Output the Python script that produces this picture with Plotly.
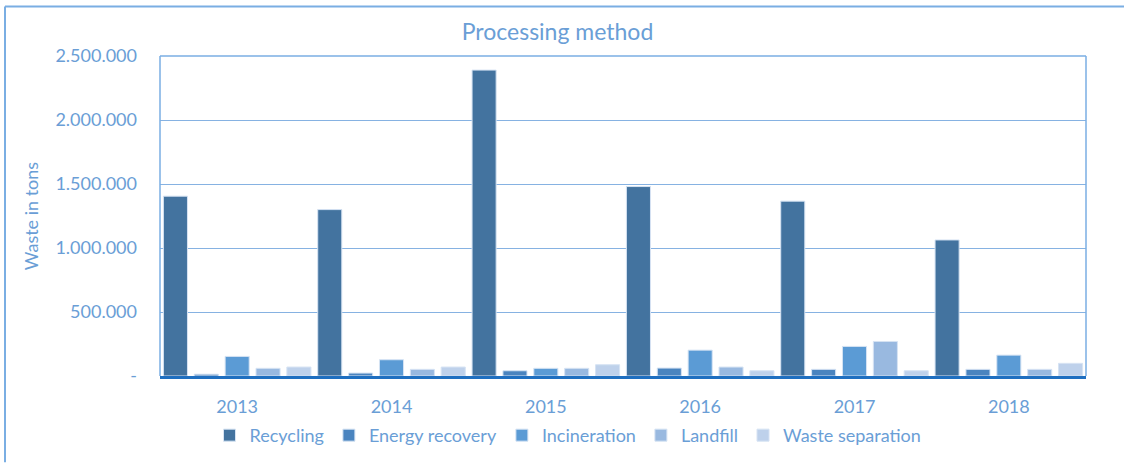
import plotly.graph_objects as go

# Waste processed per method, in tons
years = ["2013", "2014", "2015", "2016", "2017", "2018"]
recycling = [1405000, 1300000, 2390000, 1480000, 1366000, 1063000]
energy_recovery = [14000, 23000, 41000, 62000, 52000, 52000]
incineration = [153000, 127000, 60000, 202000, 231000, 163000]
landfill = [60000, 52000, 60000, 70000, 270000, 52000]
waste_separation = [70000, 70000, 88000, 41000, 41000, 99000]

series_names = ["Recycling", "Energy recovery", "Incineration", "Landfill", "Waste separation"]
series_values = [recycling, energy_recovery, incineration, landfill, waste_separation]
series_colors = ["#43739F", "#4A84BF", "#5B9BD5", "#99B9E0", "#BED1EB"]

y_tickvals = [0, 500000, 1000000, 1500000, 2000000, 2500000]
y_ticktext = ["-", "500.000", "1.000.000", "1.500.000", "2.000.000", "2.500.000"]

FONT = "Lato"
TEXT_COLOR = "#6A9ED6"
FRAME_COLOR = "#7AAEE3"
W, H = 1124, 466
ML, MR, MT, MB = 160, 38, 56, 87

fig = go.Figure()
for name, vals, col in zip(series_names, series_values, series_colors):
    fig.add_trace(go.Bar(
        name=name, x=years, y=vals,
        marker=dict(color=col, line=dict(color="#D6E3F3", width=1)),
    ))

pw, ph = W - ML - MR, H - MT - MB
def px_x(p):
    return (p - ML) / pw
def px_y(p):
    return (H - MB - p) / ph

# outer chart frame: only the top and left edges fall inside the page
fig.add_shape(type="line", xref="paper", yref="paper",
              x0=px_x(5), x1=px_x(W), y0=px_y(6), y1=px_y(6),
              line=dict(color=FRAME_COLOR, width=2))
fig.add_shape(type="line", xref="paper", yref="paper",
              x0=px_x(5), x1=px_x(5), y0=px_y(6), y1=px_y(H),
              line=dict(color=FRAME_COLOR, width=2))

fig.update_layout(
    width=W, height=H,
    margin=dict(l=ML, r=MR, t=MT, b=MB, pad=0),
    paper_bgcolor="white", plot_bgcolor="white",
    barmode="group", bargap=0.0, bargroupgap=0.22,
    font=dict(family=FONT, color=TEXT_COLOR, size=18),
    title=dict(text="Processing method", x=0.496, xanchor="center", y=1 - 32 / H, yanchor="middle",
               font=dict(family=FONT, size=23, color=TEXT_COLOR)),
    legend=dict(orientation="h", x=px_x(568), xanchor="center", y=px_y(439), yanchor="middle",
                font=dict(family=FONT, size=18, color=TEXT_COLOR), itemwidth=30,
                traceorder="normal"),
    xaxis=dict(showgrid=False, showline=True, linecolor="#1F6FC0", linewidth=2.5,
               ticks="", ticklabelstandoff=13, tickfont=dict(size=18)),
    yaxis=dict(range=[0, 2500000], tickvals=y_tickvals, ticktext=y_ticktext,
               showgrid=True, gridcolor="#86B2E2", gridwidth=1.3,
               showline=False, zeroline=False, ticks="", ticklabelstandoff=22,
               tickfont=dict(size=18),
               title=dict(text="Waste in tons", standoff=12, font=dict(size=18))),
)

# plot-area frame: top, left and right edges
for x0, y0, x1, y1 in [(0, 1, 1, 1), (0, 0, 0, 1), (1, 0, 1, 1)]:
    fig.add_shape(type="line", xref="paper", yref="paper", x0=x0, y0=y0, x1=x1, y1=y1,
                  line=dict(color=FRAME_COLOR, width=1.5))

fig.write_html("out.html")
